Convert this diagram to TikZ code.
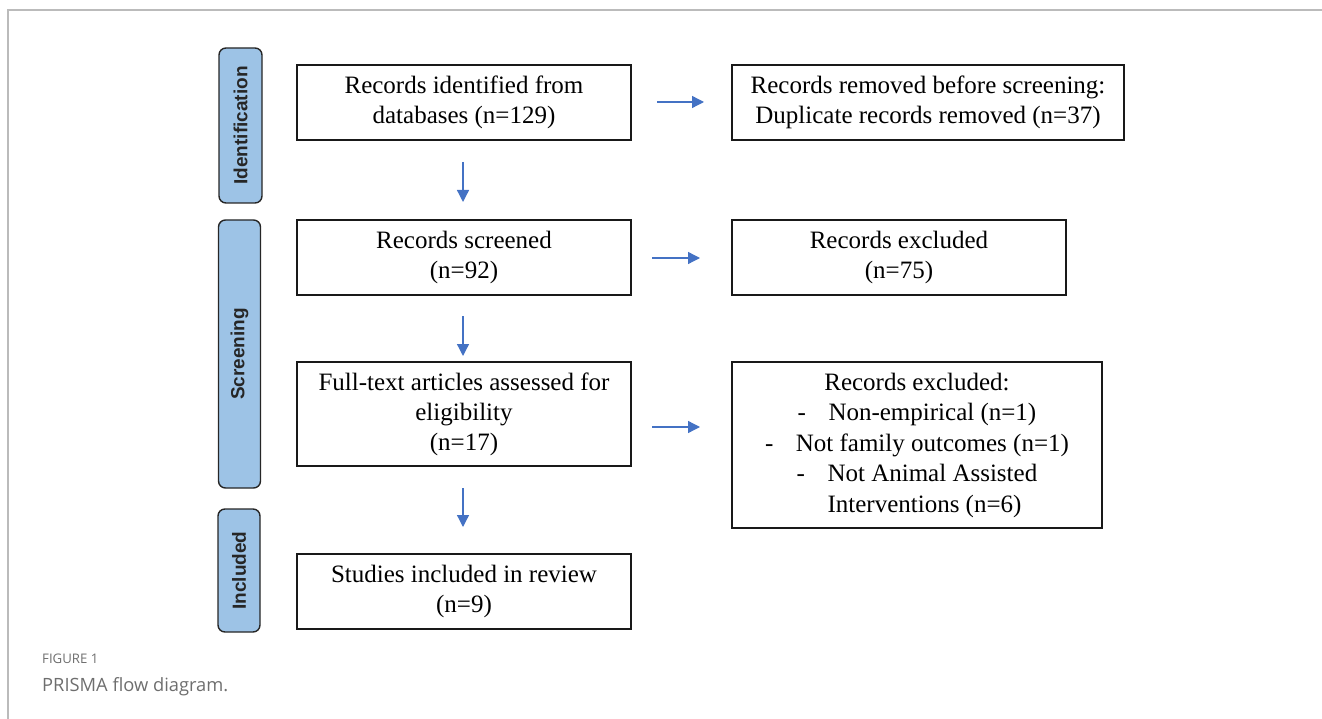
\documentclass[tikz,border=0pt]{standalone}
\usepackage{fontspec}
\setmainfont{Liberation Serif}
\newfontfamily\labelfont{Liberation Sans}
\newfontfamily\capfont{Open Sans}
\usetikzlibrary{arrows.meta}
\definecolor{arrowblue}{HTML}{4472C4}
\definecolor{stagefill}{HTML}{9DC3E6}
\definecolor{framegray}{HTML}{BBBBBB}
\definecolor{capgray}{HTML}{6E6E6E}
\tikzset{
  flowbox/.style={draw=black!90, line width=1.4pt, fill=white, align=center, inner sep=0pt,
    font=\fontsize{25}{30}\selectfont},
  stagebox/.style={draw=black!85, line width=1.4pt, fill=stagefill, rounded corners=7pt, inner sep=0pt},
  stagetext/.style={font=\labelfont\bfseries\fontsize{19}{22}\selectfont, rotate=90, black!85},
  flowarrow/.style={draw=arrowblue, line width=1.3pt, -{Triangle[length=12pt,width=12pt]}}
}
\begin{document}
\begin{tikzpicture}[x=1pt,y=1pt]
\useasboundingbox (0,0) rectangle (1322,-719);
% outer frame (top and left only)
\draw[framegray, line width=1.2pt] (8,-719) -- (8,-10) -- (1322,-10);

% stage labels
\node[stagebox, minimum width=43, minimum height=155] (sid) at (240.5,-125.5) {};
\node[stagetext] (tid) at (sid.center) {Identification};
\node[stagebox, minimum width=42, minimum height=268] (ssc) at (239.5,-354) {};
\node[stagetext] (tsc) at (ssc.center) {Screening};
\node[stagebox, minimum width=42, minimum height=123] (sin) at (239,-570.5) {};
\node[stagetext] (tin) at (sin.center) {Included};

% boxes
\node[flowbox, minimum width=334, minimum height=75] (b1) at (464,-102.5)
  {Records identified from\\databases (n=129)};
\node[flowbox, minimum width=392, minimum height=75] (b2) at (928,-102.5)
  {Records removed before screening:\\Duplicate records removed (n=37)};
\node[flowbox, minimum width=334, minimum height=75] (b3) at (464,-257.5)
  {Records screened\\(n=92)};
\node[flowbox, minimum width=334, minimum height=75] (b4) at (899,-257.5)
  {Records excluded\\(n=75)};
\node[flowbox, minimum width=334, minimum height=104] (b5) at (464,-414)
  {Full-text articles assessed for\\eligibility\\(n=17)};
\node[flowbox, minimum width=370, minimum height=166, font=\fontsize{25}{30.5}\selectfont] (b6) at (917,-445)
  {Records excluded:\\-\hspace{0.9em}Non-empirical (n=1)\\-\hspace{0.9em}Not family outcomes (n=1)\\-\hspace{0.9em}Not Animal Assisted\\\hspace{0.6em}Interventions (n=6)};
\node[flowbox, minimum width=334, minimum height=75] (b7) at (464,-591.5)
  {Studies included in review\\(n=9)};

% arrow anchors
\coordinate (a1s) at (657,-102);
\coordinate (a1e) at (704,-102);
\coordinate (a2s) at (652,-258);
\coordinate (a2e) at (700,-258);
\coordinate (a3s) at (652,-427);
\coordinate (a3e) at (700,-427);
\coordinate (d1s) at (463,-162);
\coordinate (d1e) at (463,-202);
\coordinate (d2s) at (463,-316);
\coordinate (d2e) at (463,-356);
\coordinate (d3s) at (463,-488);
\coordinate (d3e) at (463,-527);

\draw[flowarrow] (a1s) -- (a1e);
\draw[flowarrow] (a2s) -- (a2e);
\draw[flowarrow] (a3s) -- (a3e);
\draw[flowarrow] (d1s) -- (d1e);
\draw[flowarrow] (d2s) -- (d2e);
\draw[flowarrow] (d3s) -- (d3e);

% caption
\node[anchor=west, text=capgray, inner sep=0pt, font=\capfont\fontsize{13.2}{15}\selectfont] (fig) at (42,-659) {FIGURE 1};
\node[anchor=west, text=capgray, inner sep=0pt, font=\capfont\fontsize{18.3}{21}\selectfont] (cap) at (42,-687) {PRISMA flow diagram.};
\end{tikzpicture}
\end{document}
